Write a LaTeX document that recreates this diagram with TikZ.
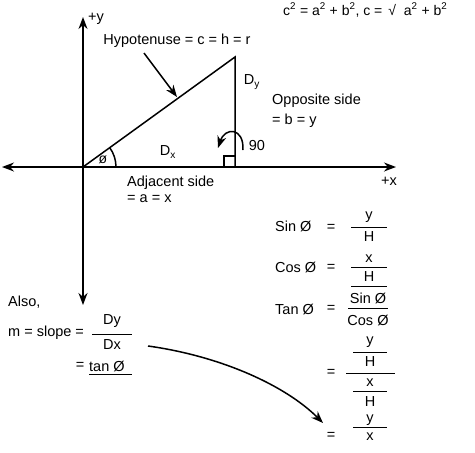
\documentclass[tikz,border=0pt]{standalone}
\usepackage{fontspec}
\setmainfont{Liberation Sans}
\usepackage{tikz}
\usetikzlibrary{positioning,arrows.meta}
\tikzset{Txt/.style={%
    font=\fontsize{14.5}{17}\selectfont,%
    inner sep=0pt,%
}}
\tikzset{SmallTxt/.style={%
    font=\fontsize{14}{16}\selectfont,%
    inner sep=0pt,%
}}
\tikzset{Axis/.style={%
    {Stealth[length=12pt,width=9pt]}-{Stealth[length=12pt,width=9pt]},%
    line width=1.5pt,%
}}
\tikzset{Side/.style={%
    line width=1.5pt,%
}}
\tikzset{Pointer/.style={%
    -{Stealth[length=12pt,width=9pt]},%
    line width=1.5pt,%
}}
\tikzset{Bar/.style={%
    line width=0.8pt,%
}}
\NewDocumentCommand{\sq}{m}{#1\textsuperscript{2}}

\begin{document}
\begin{tikzpicture}[x=1pt,y=-1pt]
    \useasboundingbox (0,0) rectangle (475,453);

    % axes and triangle
    \coordinate (O) at (83,167);
    \coordinate (xl) at (2,167);
    \coordinate (xr) at (396,167);
    \coordinate (yt) at (83,17);
    \coordinate (yb) at (83,305);
    \coordinate (A) at (235,57);
    \coordinate (B) at (235,167);

    \draw[Axis] (xl) -- (xr);
    \draw[Axis] (yb) -- (yt);
    \draw[Side] (O) -- (A) -- (B);
    \draw[Side] (B) ++(-11,0) |- ++(11,-11);
    \draw[Side] (O) ++(33,0) arc[start angle=0, end angle=36, radius=33pt];

    \node[Txt, anchor=west] (py) at (88,19) {+y};
    \node[Txt] (px) at (389,181) {+x};
    \node[SmallTxt, anchor=west] (pyth) at (283,10) {\sq{c} = \sq{a} + \sq{b}, c = \hspace{2pt}√\hspace{8pt}\sq{a} + \sq{b}};

    \node[Txt] (hyp) at (177,41) {Hypotenuse = c = h = r};
    \coordinate (hypFrom) at (144,53);
    \coordinate (hypTo) at (177,97);
    \draw[Pointer] (hypFrom) -- (hypTo);

    \node[Txt] (dy) at (252,82) {D\textsubscript{y}};
    \node[Txt] (dx) at (168,152) {D\textsubscript{x}};
    \node[SmallTxt] (phi) at (103,160) {ø};

    \node[Txt] (ninety) at (257,146) {90};
    \coordinate (rotFrom) at (243,150);
    \coordinate (rotTo) at (218,148);
    \draw[Pointer] (rotFrom) .. controls (244,127) and (225,127) .. (rotTo);

    \node[Txt, anchor=west] (opp) at (272,101) {Opposite side};
    \node[Txt, below=6pt of opp.south west, anchor=north west] (oppEq) {= b = y};
    \node[Txt, anchor=west] (adj) at (127,183) {Adjacent side};
    \node[Txt, below=5pt of adj.south west, anchor=north west] (adjEq) {= a = x};

    % trig ratios
    \node[Txt, anchor=west] (sinL) at (275,226) {Sin Ø};
    \node[Txt] (sinEq) at (331,228) {=};
    \node[Txt] (sinN) at (369,217) {y};
    \draw[Bar] (351,227) -- (387,227);
    \node[Txt] (sinD) at (369,237) {H};

    \node[Txt, anchor=west] (cosL) at (275,267) {Cos Ø};
    \node[Txt] (cosEq) at (331,268) {=};
    \node[Txt] (cosN) at (369,259) {x};
    \draw[Bar] (351,267) -- (387,267);
    \node[Txt] (cosD) at (369,277) {H};
    \draw[Bar] (351,286) -- (387,286);

    \node[Txt, anchor=west] (tanL) at (275,309) {Tan Ø};
    \node[Txt] (tanEq) at (331,309) {=};
    \node[Txt] (tanN) at (368,298) {Sin Ø};
    \draw[Bar] (348,308) -- (388,308);
    \node[Txt] (tanD) at (368,320) {Cos Ø};

    \node[Txt] (cmpEq) at (331,373) {=};
    \node[Txt] (cmpA) at (370,342) {y};
    \draw[Bar] (353,352) -- (387,352);
    \node[Txt] (cmpB) at (370,362) {H};
    \draw[Bar] (346,373) -- (395,373);
    \node[Txt] (cmpC) at (370,383) {x};
    \draw[Bar] (353,391) -- (387,391);
    \node[Txt] (cmpD) at (370,402) {H};

    \node[Txt] (resEq) at (331,436) {=};
    \node[Txt] (resN) at (370,420) {y};
    \draw[Bar] (353,427) -- (387,427);
    \node[Txt] (resD) at (370,437) {x};

    % slope
    \node[Txt, anchor=west] (also) at (8,302) {Also,};
    \node[Txt, anchor=west] (slope) at (8,333) {m = slope =};
    \node[Txt] (slN) at (112,321) {Dy};
    \draw[Bar] (92,334) -- (132,334);
    \node[Txt] (slD) at (112,345) {Dx};
    \node[Txt] (slEq) at (80,366) {=};
    \node[Txt, anchor=west] (slTan) at (89,366) {tan Ø};
    \draw[Bar] (89,374) -- (132,374);

    \coordinate (cFrom) at (148,346);
    \coordinate (cTo) at (323,423);
    \draw[Pointer] (cFrom) .. controls (220,356) and (285,385) .. (cTo);
\end{tikzpicture}
\end{document}
